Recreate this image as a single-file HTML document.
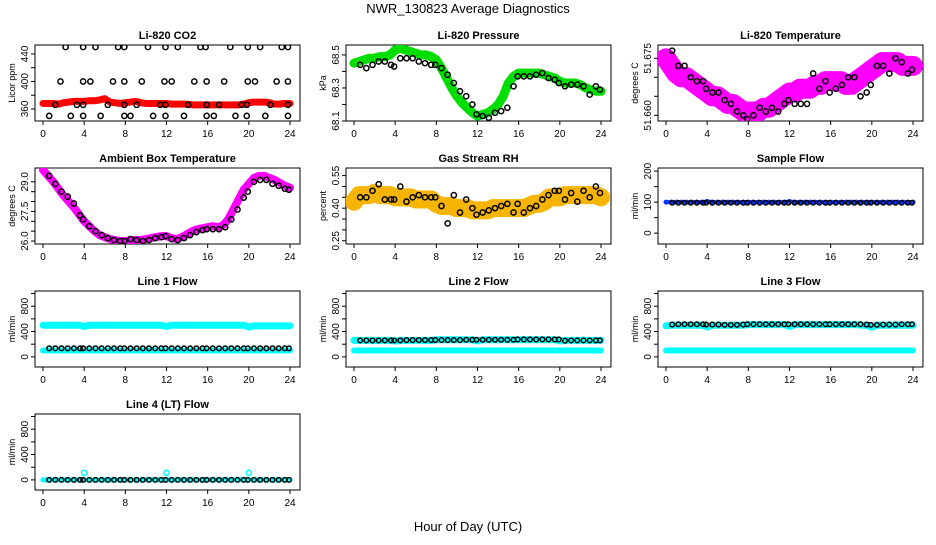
<!DOCTYPE html>
<html><head><meta charset="utf-8"><style>
body{margin:0;background:#fff;}
svg text{font-family:"Liberation Sans",Arial,sans-serif;}
</style></head><body>
<svg id="chart" width="936" height="540" xmlns="http://www.w3.org/2000/svg">
<rect width="936" height="540" fill="#fff"/>
<text x="468" y="13" text-anchor="middle" font-size="13">NWR_130823  Average Diagnostics</text>
<text x="468" y="531" text-anchor="middle" font-size="13">Hour of Day (UTC)</text>
</svg>
<script>
// ---- data ----
const halfHours = [0,0.5,1,1.5,2,2.5,3,3.5,4,4.5,5,5.5,6,6.5,7,7.5,8,8.5,9,9.5,10,10.5,11,11.5,12,12.5,13,13.5,14,14.5,15,15.5,16,16.5,17,17.5,18,18.5,19,19.5,20,20.5,21,21.5,22,22.5,23,23.5,24];
const blackHours = [0.6,1.2,1.8,2.4,3.0,3.6,3.9,4.5,5.1,5.7,6.3,6.9,7.5,7.9,8.5,9.1,9.7,10.3,10.9,11.5,11.9,12.5,13.1,13.7,14.3,14.9,15.5,15.9,16.5,17.1,17.7,18.3,18.9,19.5,19.9,20.5,21.1,21.7,22.3,22.9,23.5,23.9];
const xTicks = [0,4,8,12,16,20,24];

const co2Band = [368,368,368,367,369,370,371,371,371,372,372,373,375,370,369,368,369,370,371,369,368,368,368,368,368,367,367,367,367,366,366,366,366,366,366,366,366,366,366,367,369,370,370,370,369,367,367,368,368];
const co2BlackHours = [2.2,3.9,5.1,7.3,7.9,10.2,11.9,13.1,15.3,15.8,18.2,19.9,21.1,23.2,23.8,1.7,3.9,4.6,6.8,7.9,9.6,11.8,12.5,14.7,15.9,17.6,19.9,20.6,22.7,23.8,1.2,3.3,3.9,6.3,7.9,9.1,11.4,11.9,14.1,15.9,17.1,19.3,19.8,22.1,23.8,0.6,2.7,3.9,5.6,7.9,8.5,10.7,11.9,13.7,15.9,16.6,18.7,19.8,21.6,23.8];
const co2BlackVals = [450,450,450,450,450,450,450,450,450,450,450,450,450,450,450,400,400,400,400,400,400,400,400,400,400,400,400,400,400,400,366,366,366,366,366,366,366,366,366,366,366,366,366,366,366,350,350,350,350,350,350,350,350,350,350,350,350,350,350,350];

const presBand = [68.45,68.46,68.47,68.48,68.48,68.49,68.49,68.5,68.53,68.54,68.53,68.52,68.51,68.5,68.5,68.49,68.47,68.42,68.36,68.3,68.25,68.21,68.18,68.15,68.13,68.14,68.15,68.17,68.2,68.25,68.33,68.37,68.39,68.39,68.39,68.39,68.39,68.38,68.37,68.36,68.34,68.33,68.33,68.33,68.32,68.3,68.29,68.28,68.28];
const presBlack = [68.44,68.42,68.44,68.46,68.46,68.44,68.43,68.48,68.48,68.48,68.46,68.45,68.44,68.44,68.42,68.38,68.33,68.28,68.25,68.2,68.14,68.13,68.12,68.15,68.16,68.18,68.31,68.37,68.37,68.37,68.38,68.39,68.36,68.35,68.33,68.31,68.32,68.32,68.31,68.26,68.31,68.29];

const tempBand = [51.675,51.673,51.671,51.670,51.670,51.669,51.668,51.667,51.666,51.665,51.665,51.664,51.663,51.663,51.662,51.661,51.661,51.661,51.661,51.662,51.662,51.663,51.664,51.665,51.666,51.666,51.667,51.667,51.667,51.668,51.668,51.669,51.669,51.669,51.669,51.668,51.668,51.669,51.670,51.671,51.672,51.673,51.674,51.674,51.674,51.674,51.673,51.673,51.673];
const tempBlack = [51.677,51.673,51.673,51.670,51.669,51.669,51.667,51.666,51.666,51.664,51.663,51.661,51.660,51.659,51.660,51.662,51.661,51.662,51.661,51.663,51.664,51.663,51.663,51.663,51.671,51.667,51.669,51.666,51.667,51.668,51.670,51.670,51.665,51.666,51.668,51.673,51.673,51.671,51.675,51.674,51.671,51.672];

const ambBand = [29.6,29.3,29.0,28.65,28.3,28.0,27.7,27.35,27.0,26.75,26.5,26.3,26.2,26.1,26.05,26.0,26.0,26.05,26.05,26.05,26.1,26.15,26.2,26.25,26.25,26.15,26.1,26.2,26.35,26.5,26.6,26.65,26.7,26.75,26.7,26.8,27.1,27.6,28.1,28.6,28.9,29.2,29.3,29.3,29.2,29.1,28.95,28.8,28.7];
const ambBlack = [29.3,28.9,28.5,28.25,27.9,27.3,27.1,26.75,26.5,26.3,26.15,26.05,26.0,26.0,26.1,26.05,26.0,26.05,26.15,26.2,26.25,26.1,26.05,26.15,26.3,26.45,26.55,26.6,26.6,26.6,26.7,27.1,27.6,28.2,28.5,29.0,29.1,29.1,28.9,28.8,28.65,28.6];

const rhBand = [0.43,0.46,0.46,0.46,0.47,0.46,0.46,0.46,0.45,0.45,0.45,0.45,0.44,0.44,0.44,0.44,0.42,0.41,0.41,0.41,0.40,0.40,0.40,0.39,0.39,0.39,0.39,0.40,0.40,0.40,0.40,0.40,0.40,0.40,0.41,0.42,0.42,0.43,0.45,0.45,0.45,0.46,0.46,0.46,0.46,0.46,0.46,0.46,0.45];
const rhBlack = [0.45,0.45,0.48,0.51,0.44,0.44,0.44,0.50,0.43,0.45,0.46,0.45,0.45,0.45,0.41,0.33,0.46,0.38,0.44,0.40,0.37,0.38,0.39,0.40,0.41,0.42,0.38,0.42,0.38,0.40,0.41,0.44,0.46,0.48,0.48,0.44,0.47,0.43,0.48,0.45,0.50,0.47];

const sampleBand = [100,100,100,100,100,100,100,100,102,100,100,100,100,100,100,100,100,100,100,100,100,100,100,100,102,100,100,100,100,100,100,100,100,100,100,100,100,100,100,100,100,100,100,100,100,100,100,100,100];
const sampleBlack = 98;

const line1High = [500,500,500,500,500,500,500,500,480,500,500,500,500,500,500,500,500,500,500,500,500,500,500,500,480,500,500,500,500,500,500,500,500,500,500,500,500,500,500,500,470,490,490,490,490,490,490,490,490];
const line1Low = 100;
const line1Black = 135;
const line2Top = [260,260,260,260,260,260,260,260,250,260,260,260,260,260,260,260,270,270,270,270,270,270,270,270,250,270,270,270,270,270,270,270,270,270,270,270,270,270,270,270,250,260,260,260,260,260,260,260,260];
const line2Low = 100;
const line2Black = [260,260,260,260,260,260,260,260,265,265,265,265,265,265,265,265,265,265,270,270,270,270,270,270,270,270,270,275,275,275,275,275,275,275,275,255,260,260,260,260,260,260];
const line3Top = [490,500,500,500,500,500,500,500,470,500,500,500,500,500,500,500,510,510,510,510,510,510,510,510,480,510,510,510,510,510,510,510,510,510,510,510,510,510,500,500,470,500,500,500,500,500,500,500,500];
const line3Low = 100;
const line3Black = [510,515,515,515,515,515,510,510,510,505,505,505,510,515,515,515,515,515,515,515,515,515,515,515,515,515,515,515,515,515,515,515,515,510,505,505,510,510,510,515,515,515];
const line4Base = 0;
const line4SpikeHours = [4,12,20];
const line4SpikeVals = [110,110,110];

// ---- layout ----
const SVGNS = "http://www.w3.org/2000/svg";
const svg = document.getElementById('chart');
const colX = [35,346,658], rowY = [45,168,291,414], PW = 265, PH = 76;
function mk(tag, attrs, parent){
  const e = document.createElementNS(SVGNS, tag);
  for (const k in attrs) e.setAttribute(k, attrs[k]);
  (parent||svg).appendChild(e); return e;
}
function panel(col,row,title,ylab,ymin,ymax,ticks,labTicks,fmt,name){
  const x0=colX[col], y0=rowY[row];
  const g = mk('g',{});
  
  
  const xs = h => x0 + 8 + (h/24)*247;
  const ys = v => y0 + PH - (v-ymin)/(ymax-ymin)*PH;
  const t = mk('text',{x:x0+PW/2,y:y0-6,'text-anchor':'middle','font-size':'11','font-weight':'bold'},g);
  t.textContent = title;
  
  
  mk('rect',{x:x0,y:y0,width:PW,height:PH,fill:'none',stroke:'#000','stroke-width':1},g);
  const xa = mk('g',{},g);
  
  
  mk('line',{x1:xs(0),x2:xs(24),y1:y0+PH,y2:y0+PH,stroke:'#000'},xa);
  xTicks.forEach(v=>{
    mk('line',{x1:xs(v),x2:xs(v),y1:y0+PH,y2:y0+PH+4,stroke:'#000'},xa);
    const tl = mk('text',{x:xs(v),y:y0+PH+16,'text-anchor':'middle','font-size':'10'},xa);
    tl.textContent = v;
  });
  const ya = mk('g',{},g);
  
  
  ticks.forEach(v=>{
    mk('line',{x1:x0-4,x2:x0,y1:ys(v),y2:ys(v),stroke:'#000'},ya);
  });
  labTicks.forEach(v=>{
    const tl = mk('text',{x:0,y:0,'text-anchor':'middle','font-size':'10',transform:`translate(${x0-7},${ys(v)}) rotate(-90)`},ya);
    tl.textContent = fmt(v);
  });
  const yl = mk('text',{x:0,y:0,'text-anchor':'middle','font-size':'9',transform:`translate(${x0-20},${y0+PH/2}) rotate(-90)`},g);
  yl.textContent = ylab;
  
  
  const clipId = 'c'+col+row;
  const cp = mk('clipPath',{id:clipId},g);
  mk('rect',{x:x0,y:y0,width:PW,height:PH},cp);
  const plot = mk('g',{'clip-path':`url(#${clipId})`},g);
  return {xs,ys,plot};
}
function band(p, hours, vals, color, width, name){
  const pts = hours.map((h,i)=>p.xs(h)+','+p.ys(vals[i])).join(' ');
  const pl = mk('polyline',{points:pts,fill:'none',stroke:color,'stroke-width':width,'stroke-linejoin':'round','stroke-linecap':'round'},p.plot);
  
  
  hours.forEach((h,i)=>{
    mk('circle',{cx:p.xs(h),cy:p.ys(vals[i]),r:Math.max(2,width/2-1),fill:color,stroke:color},p.plot);
  });
}
function dots(p, hours, vals, color, name, r){
  const g = mk('g',{},p.plot);
  
  
  hours.forEach((h,i)=>{
    mk('circle',{cx:p.xs(h),cy:p.ys(vals[i]),r:r||2.6,fill:'none',stroke:color,'stroke-width':1.5},g);
  });
}
const rep = (n,v)=>Array(n).fill(v);

let p = panel(0,0,'Li-820 CO2','Licor ppm',342.5,453,[360,380,400,420,440],[360,400,440],v=>v,'co2');
band(p, halfHours, co2Band, '#ff0000', 7, 'co2-red-series');
dots(p, co2BlackHours, co2BlackVals, '#000', 'co2-black-series');

p = panel(1,0,'Li-820 Pressure','kPa',68.1,68.56,[68.1,68.2,68.3,68.4,68.5],[68.1,68.3,68.5],v=>v.toFixed(1),'pressure');
band(p, halfHours, presBand, '#00dd00', 9, 'pressure-green-series');
dots(p, blackHours, presBlack, '#000', 'pressure-black-series');

p = panel(2,0,'Li-820 Temperature','degrees C',51.6585,51.6785,[51.660,51.665,51.670,51.675],[51.660,51.675],v=>v.toFixed(3),'li820-temp');
band(p, halfHours, tempBand, '#ff00ff', 20, 'temp-magenta-series');
dots(p, blackHours, tempBlack, '#000', 'temp-black-series');

p = panel(0,1,'Ambient Box Temperature','degrees C',25.85,29.7,[26.0,26.5,27.0,27.5,28.0,28.5,29.0],[26.0,27.5,29.0],v=>v.toFixed(1),'ambient');
band(p, halfHours, ambBand, '#ff00ff', 8, 'ambient-magenta-series');
dots(p, blackHours, ambBlack, '#000', 'ambient-black-series');

p = panel(1,1,'Gas Stream RH','percent',0.235,0.585,[0.25,0.30,0.35,0.40,0.45,0.50,0.55],[0.25,0.40,0.55],v=>v.toFixed(2),'rh');
band(p, halfHours, rhBand, '#f7b400', 18, 'rh-orange-series');
dots(p, blackHours, rhBlack, '#000', 'rh-black-series');

p = panel(2,1,'Sample Flow','ml/min',-35,210,[0,50,100,150,200],[0,100,200],v=>v,'sample-flow');
band(p, halfHours, sampleBand, '#0033ff', 4, 'sample-blue-series');
dots(p, blackHours, rep(blackHours.length, sampleBlack), '#000', 'sample-black-series', 2.3);

p = panel(0,2,'Line 1 Flow','ml/min',-160,1040,[0,200,400,600,800,1000],[0,400,800],v=>v,'line1');
band(p, halfHours, line1High, '#00ffff', 7, 'line1-high-series');
band(p, halfHours, rep(halfHours.length, line1Low), '#00ffff', 6, 'line1-low-series');
dots(p, blackHours, rep(blackHours.length, line1Black), '#000', 'line1-black-series', 2.3);

p = panel(1,2,'Line 2 Flow','ml/min',-160,1040,[0,200,400,600,800,1000],[0,400,800],v=>v,'line2');
band(p, halfHours, line2Top, '#00ffff', 7, 'line2-top-series');
band(p, halfHours, rep(halfHours.length, line2Low), '#00ffff', 6, 'line2-low-series');
dots(p, blackHours, line2Black, '#000', 'line2-black-series', 2.3);

p = panel(2,2,'Line 3 Flow','ml/min',-160,1040,[0,200,400,600,800,1000],[0,400,800],v=>v,'line3');
band(p, halfHours, line3Top, '#00ffff', 7, 'line3-top-series');
band(p, halfHours, rep(halfHours.length, line3Low), '#00ffff', 6, 'line3-low-series');
dots(p, blackHours, line3Black, '#000', 'line3-black-series', 2.3);

p = panel(0,3,'Line 4 (LT) Flow','ml/min',-160,1040,[0,200,400,600,800,1000],[0,400,800],v=>v,'line4');
band(p, halfHours, rep(halfHours.length, line4Base), '#00ffff', 5, 'line4-base-series');
dots(p, line4SpikeHours, line4SpikeVals, '#00ffff', 'line4-spike-series', 2.6);
dots(p, blackHours, rep(blackHours.length, line4Base), '#000', 'line4-black-series', 2.3);
</script>
</body></html>
